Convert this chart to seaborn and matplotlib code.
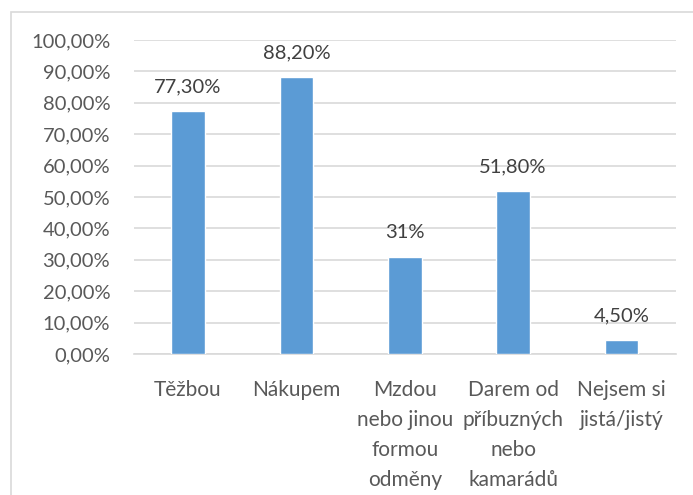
import matplotlib
matplotlib.use('Agg')
import matplotlib.pyplot as plt
import seaborn as sns
import pandas as pd
from matplotlib.patches import Rectangle

categories = ['Těžbou', 'Nákupem', 'Mzdou\nnebo jinou\nformou\nodměny',
              'Darem od\npříbuzných\nnebo\nkamarádů', 'Nejsem si\njistá/jistý']
values = [77.3, 88.2, 31.0, 51.8, 4.5]
value_labels = ['77,30%', '88,20%', '31%', '51,80%', '4,50%']
y_ticks = [0, 10, 20, 30, 40, 50, 60, 70, 80, 90, 100]

sns.set_style('white')
plt.rcParams['font.family'] = ['Lato', 'DejaVu Sans']

df = pd.DataFrame({'kategorie': categories, 'hodnota': values})

fig = plt.figure(figsize=(6.93, 4.95), dpi=100)
ax = fig.add_axes([0.193, 0.285, 0.782, 0.634])

sns.barplot(data=df, x='kategorie', y='hodnota', color='#5B9BD5',
            width=0.31, saturation=1, ax=ax, zorder=3)

ax.set_ylim(0, 100)
ax.set_yticks(y_ticks)
ax.set_yticklabels([f'{t},00%' for t in y_ticks])
ax.yaxis.grid(True, color='#D9D9D9', linewidth=1.2, zorder=0)
ax.set_axisbelow(True)
for s in ['top', 'right', 'left']:
    ax.spines[s].set_visible(False)
ax.spines['bottom'].set_color('#D9D9D9')
ax.spines['bottom'].set_linewidth(1.2)
ax.tick_params(axis='both', length=0, labelsize=14.5, colors='#595959')
ax.tick_params(axis='y', pad=17)
ax.tick_params(axis='x', pad=19)
for lbl in ax.get_xticklabels():
    lbl.set_linespacing(1.62)
    lbl.set_fontsize(15)
ax.set_xlabel('')
ax.set_ylabel('')

for i, (v, t) in enumerate(zip(values, value_labels)):
    ax.text(i, v + 5, t, ha='center', va='bottom', fontsize=14.5, color='#404040')

fig.patches.append(Rectangle((11 / 693, -0.1), 2, 1 - 12 / 495 + 0.1,
                             transform=fig.transFigure, fill=False,
                             edgecolor='#D9D9D9', linewidth=1.2))

fig.savefig('out.png', dpi=100)
